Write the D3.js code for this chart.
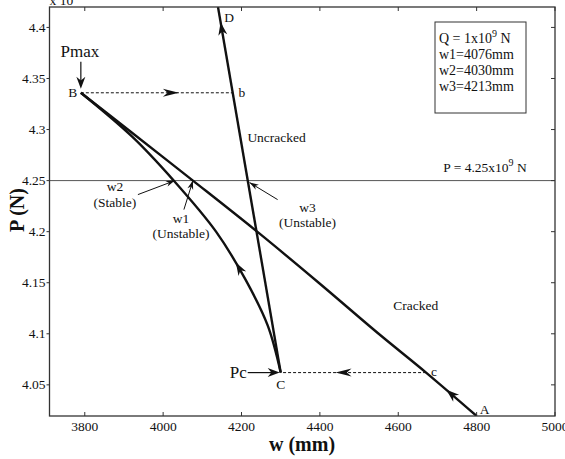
<!DOCTYPE html>
<html>
<head>
<meta charset="utf-8">
<script src="https://cdn.jsdelivr.net/npm/d3@7/dist/d3.min.js"></script>
<style>
  body { margin: 0; background: #fff; }
  text { font-family: "Liberation Serif", "Times New Roman", serif; fill: #111; }
</style>
</head>
<body>
<div id="chart"></div>
<script>
// ---- data ----
const xTicks = [3800, 4000, 4200, 4400, 4600, 4800, 5000];
const yTicks = [4.05, 4.1, 4.15, 4.2, 4.25, 4.3, 4.35, 4.4];

// B -> A (cracked, unstable branch)
const crackedW = [3790, 3910, 4076, 4240, 4397, 4550, 4671, 4800];
const crackedP = [4.336, 4.30, 4.25, 4.20, 4.15, 4.10, 4.062, 4.0195];
// B -> C (stable branch)
const stableW = [3790, 3921, 4027, 4135, 4211, 4267, 4300];
const stableP = [4.336, 4.293, 4.25, 4.20, 4.1525, 4.108, 4.062];
// C -> D (uncracked)
const uncrackedW = [4300, 4140];
const uncrackedP = [4.062, 4.42];
// dashed jumps B -> b and c -> C
const jumpBW = [3790, 4178];
const jumpBP = [4.336, 4.336];
const jumpCW = [4671, 4300];
const jumpCP = [4.062, 4.062];

const pointNames = ['A', 'B', 'C', 'D', 'b', 'c'];
const pointW = [4800, 3790, 4300, 4140, 4178, 4671];
const pointP = [4.0195, 4.336, 4.062, 4.42, 4.336, 4.062];

const levelP = 4.25;
const rootNames = ['w1', 'w2', 'w3'];
const rootNotes = ['(Unstable)', '(Stable)', '(Unstable)'];
const rootW = [4076, 4030, 4213];
const legendLines = ['Q = 1x10|9| N', 'w1=4076mm', 'w2=4030mm', 'w3=4213mm'];

// ---- layout ----
const W = 565, H = 459;
const pLeft = 49.5, pRight = 555, pTop = 7, pBottom = 416;

const x = d3.scaleLinear().domain([3710, 5000]).range([pLeft, pRight]);
const y = d3.scaleLinear().domain([4.0195, 4.42]).range([pBottom, pTop]);

const svg = d3.select('#chart').append('svg')
  .attr('width', W)
  .attr('height', H);

svg.append('defs').append('clipPath').attr('id', 'plot')
  .append('rect')
  .attr('x', pLeft).attr('y', pTop)
  .attr('width', pRight - pLeft).attr('height', pBottom - pTop);

// notched arrow head, tip at origin pointing +x
function headPath(len, wid) {
  return `M0,0L${-len},${-wid / 2}L${-len * 0.7},0L${-len},${wid / 2}Z`;
}
function drawHead(g, tx, ty, angle, len, wid) {
  g.append('path')
    .attr('d', headPath(len, wid))
    .attr('transform', `translate(${tx},${ty}) rotate(${angle * 180 / Math.PI})`)
    .attr('fill', '#111');
}
// put a head on a path where it crosses a given pixel y (or x)
function headOnPath(g, node, target, axis, reverse, len, wid) {
  const total = node.getTotalLength();
  let best = 0, bestD = 1e9;
  for (let s = 0; s <= total; s += 0.5) {
    const p = node.getPointAtLength(s);
    const d = Math.abs((axis === 'y' ? p.y : p.x) - target);
    if (d < bestD) { bestD = d; best = s; }
  }
  const p = node.getPointAtLength(best);
  const a = node.getPointAtLength(Math.max(0, best - 2));
  const b = node.getPointAtLength(Math.min(total, best + 2));
  let ang = Math.atan2(b.y - a.y, b.x - a.x);
  if (reverse) ang += Math.PI;
  drawHead(g, p.x, p.y, ang, len, wid);
}

const line = d3.line().x(d => x(d[0])).y(d => y(d[1]));
const zipPts = (ws, ps) => ws.map((w, i) => [w, ps[i]]);

const plot = svg.append('g').attr('clip-path', 'url(#plot)');

// level line P = 4.25e9
plot.append('line')
  .attr('x1', pLeft).attr('x2', pRight)
  .attr('y1', y(levelP)).attr('y2', y(levelP))
  .attr('stroke', '#555').attr('stroke-width', 1);

// curves
const crackedPath = plot.append('path')
  .attr('d', line.curve(d3.curveCatmullRom)(zipPts(crackedW, crackedP)))
  .attr('fill', 'none').attr('stroke', '#111').attr('stroke-width', 2.4);
const stablePath = plot.append('path')
  .attr('d', line.curve(d3.curveCatmullRom)(zipPts(stableW, stableP)))
  .attr('fill', 'none').attr('stroke', '#111').attr('stroke-width', 2.4);
const uncrackedPath = plot.append('path')
  .attr('d', line.curve(d3.curveLinear)(zipPts(uncrackedW, uncrackedP)))
  .attr('fill', 'none').attr('stroke', '#111').attr('stroke-width', 2.4);

const jumpB = plot.append('path')
  .attr('d', line.curve(d3.curveLinear)(zipPts(jumpBW, jumpBP)))
  .attr('fill', 'none').attr('stroke', '#111').attr('stroke-width', 1)
  .attr('stroke-dasharray', '3,2');
const jumpC = plot.append('path')
  .attr('d', line.curve(d3.curveLinear)(zipPts(jumpCW, jumpCP)))
  .attr('fill', 'none').attr('stroke', '#111').attr('stroke-width', 1)
  .attr('stroke-dasharray', '3,2');

// direction heads
const heads = svg.append('g');
headOnPath(heads, crackedPath.node(), y(4.045), 'y', true, 13, 9);
headOnPath(heads, stablePath.node(), y(4.17), 'y', true, 13, 9);
headOnPath(heads, uncrackedPath.node(), y(4.405), 'y', false, 13, 9);
headOnPath(heads, jumpB.node(), x(4040), 'x', false, 16, 8);
headOnPath(heads, jumpC.node(), x(4440), 'x', false, 16, 8);

// frame + ticks
const frame = svg.append('g');
frame.append('rect')
  .attr('x', pLeft).attr('y', pTop)
  .attr('width', pRight - pLeft).attr('height', pBottom - pTop)
  .attr('fill', 'none').attr('stroke', '#333').attr('stroke-width', 1.3);

xTicks.forEach(t => {
  frame.append('line').attr('x1', x(t)).attr('x2', x(t))
    .attr('y1', pBottom).attr('y2', pBottom - 4).attr('stroke', '#333');
  frame.append('line').attr('x1', x(t)).attr('x2', x(t))
    .attr('y1', pTop).attr('y2', pTop + 4).attr('stroke', '#333');
  frame.append('text')
    .attr('x', x(t)).attr('y', 431)
    .attr('text-anchor', 'middle')
    .attr('font-size', '13.5px')
    .text(t);
});
yTicks.forEach(t => {
  frame.append('line').attr('x1', pLeft - 3).attr('x2', pLeft)
    .attr('y1', y(t)).attr('y2', y(t)).attr('stroke', '#333');
  frame.append('line').attr('x1', pRight).attr('x2', pRight - 4)
    .attr('y1', y(t)).attr('y2', y(t)).attr('stroke', '#333');
  frame.append('text')
    .attr('x', pLeft - 4).attr('y', y(t) + 4.5)
    .attr('text-anchor', 'end')
    .attr('font-size', '13.5px')
    .text(t);
});

// exponent, mostly cut off at the top edge
const expo = svg.append('text').attr('x', pLeft).attr('y', 5).attr('font-size', '13.5px');
expo.append('tspan').text('x 10');
expo.append('tspan').attr('dy', -6).attr('font-size', '10px').text('9');

// axis titles
svg.append('text')
  .attr('x', 302).attr('y', 451)
  .attr('text-anchor', 'middle')
  .attr('font-size', '20px').attr('font-weight', 'bold')
  .text('w (mm)');
svg.append('text')
  .attr('transform', 'translate(24,210) rotate(-90)')
  .attr('text-anchor', 'middle')
  .attr('font-size', '20px').attr('font-weight', 'bold')
  .text('P (N)');

// point labels
const labelOffset = { A: [8, -2], B: [-8, 4], C: [0, 16], D: [11, 15], b: [9, 4], c: [8, 3] };
pointNames.forEach((n, i) => {
  const o = labelOffset[n];
  svg.append('text')
    .attr('x', x(pointW[i]) + o[0]).attr('y', y(pointP[i]) + o[1])
    .attr('text-anchor', 'middle')
    .attr('font-size', '13.5px')
    .text(n);
});

// Pmax and Pc callouts
const bx = x(pointW[1]), by = y(pointP[1]);
svg.append('line').attr('x1', bx).attr('x2', bx).attr('y1', by - 31).attr('y2', by - 8)
  .attr('stroke', '#111').attr('stroke-width', 1.2);
drawHead(svg, bx, by - 4, Math.PI / 2, 12, 9);
svg.append('text').attr('x', bx - 1).attr('y', by - 36)
  .attr('text-anchor', 'middle').attr('font-size', '17px').text('Pmax');

const cx = x(pointW[2]), cy = y(pointP[2]);
svg.append('line').attr('x1', cx - 33).attr('x2', cx - 6).attr('y1', cy).attr('y2', cy)
  .attr('stroke', '#111').attr('stroke-width', 1.2);
drawHead(svg, cx - 1, cy, 0, 12, 9);
svg.append('text').attr('x', cx - 34).attr('y', cy + 5)
  .attr('text-anchor', 'end').attr('font-size', '17px').text('Pc');

// root annotations at P = 4.25e9
const rootTail = [[-9, 29], [-37, 14], [28, 17]];
const rootTip = [[0, 0], [0, 0], [3, 2]];
const rootText = [[-12, 42, 57], [-60, 10, 26], [58, 29, 44]];
rootNames.forEach((n, i) => {
  const tx = x(rootW[i]) + rootTip[i][0], ty = y(levelP) + rootTip[i][1];
  const sx = tx + rootTail[i][0], sy = ty + rootTail[i][1];
  svg.append('line').attr('x1', sx).attr('y1', sy).attr('x2', tx).attr('y2', ty)
    .attr('stroke', '#111').attr('stroke-width', 1);
  drawHead(svg, tx, ty, Math.atan2(ty - sy, tx - sx), 9, 6);
  svg.append('text').attr('x', tx + rootText[i][0]).attr('y', ty + rootText[i][1])
    .attr('text-anchor', 'middle').attr('font-size', '13.5px').text(n);
  svg.append('text').attr('x', tx + rootText[i][0]).attr('y', ty + rootText[i][2])
    .attr('text-anchor', 'middle').attr('font-size', '13.5px').text(rootNotes[i]);
});

// region labels
svg.append('text').attr('x', x(4215)).attr('y', y(4.2875))
  .attr('font-size', '13.5px').text('Uncracked');
svg.append('text').attr('x', x(4587)).attr('y', y(4.1235))
  .attr('font-size', '13.5px').text('Cracked');

const lvl = svg.append('text').attr('x', 485).attr('y', y(levelP) - 9)
  .attr('text-anchor', 'middle').attr('font-size', '13.5px');
lvl.append('tspan').text('P = 4.25x10');
lvl.append('tspan').attr('dy', -6).attr('font-size', '10px').text('9');
lvl.append('tspan').attr('dy', 6).text(' N');

// legend box
const lg = svg.append('g');
lg.append('rect').attr('x', 435).attr('y', 22).attr('width', 91).attr('height', 91)
  .attr('fill', '#fff').attr('stroke', '#333').attr('stroke-width', 1);
legendLines.forEach((s, i) => {
  const t = lg.append('text').attr('x', 439).attr('y', 43 + i * 16).attr('font-size', '14px');
  const parts = s.split('|');
  t.append('tspan').text(parts[0]);
  if (parts.length > 1) {
    t.append('tspan').attr('dy', -6).attr('font-size', '10px').text(parts[1]);
    t.append('tspan').attr('dy', 6).text(parts[2]);
  }
});
</script>
</body>
</html>
